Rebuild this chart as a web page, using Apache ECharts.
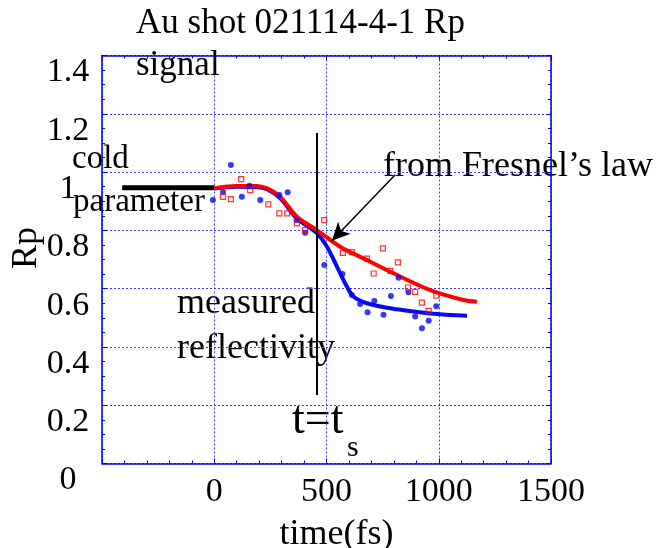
<!DOCTYPE html>
<html><head><meta charset="utf-8">
<script src="https://cdn.jsdelivr.net/npm/echarts@6/dist/echarts.min.js"></script>
<style>html,body{margin:0;padding:0;background:#fff}#c{width:662px;height:548px}</style>
</head><body><div id="c"></div>
<script>
// ---- data ----
const xTickLabels = ['', '0', '500', '1000', '1500'];          // for -500,0,500,1000,1500
const yTickLabels = ['0', '0.2', '0.4', '0.6', '0.8', '1', '1.2', '1.4'];
const coldLine = [[-410, 0.946], [0, 0.946]];
const redCurve = [[0,0.944],[101,0.952],[190,0.952],[235,0.944],[294,0.915],[368,0.847],[457,0.801],[561,0.744],[680,0.698],[814,0.647],[962,0.595],[1110,0.561],[1170,0.555]];
const blueCurve = [[0,0.944],[101,0.950],[190,0.948],[235,0.941],[294,0.910],[368,0.841],[457,0.790],[502,0.744],[547,0.675],[591,0.607],[621,0.572],[680,0.550],[814,0.529],[962,0.515],[1126,0.507]];
const blueDots = [[-6,0.904],[39,0.932],[74,1.024],[123,0.915],[157,0.953],[205,0.904],[290,0.921],[327,0.931],[367,0.835],[405,0.792],[490,0.681],[571,0.650],[613,0.578],[650,0.547],[683,0.519],[713,0.558],[754,0.510],[787,0.575],[821,0.637],[865,0.588],[895,0.504],[925,0.464],[955,0.490],[989,0.540]];
const redSquares = [[39,0.915],[74,0.907],[120,0.976],[160,0.938],[241,0.889],[290,0.858],[325,0.858],[368,0.824],[405,0.801],[490,0.835],[573,0.723],[613,0.725],[680,0.703],[710,0.652],[751,0.738],[784,0.661],[818,0.690],[863,0.604],[895,0.589],[925,0.552],[955,0.524],[989,0.576]];
const tsLine = [[457, 1.134], [457, 0.235]];
const arrowLine = [[806, 0.991], [524, 0.764]];

// ---- styles ----
const FONT = 'Liberation Serif';
const AX = '#0000ee';
const GRID = '#3c3cff';

const chart = echarts.init(document.getElementById('c'), null, {renderer: 'canvas'});

function axisBase(extra) {
  return Object.assign({
    type: 'value',
    axisLine: {show: true, onZero: false, lineStyle: {color: AX, width: 1.5}},
    axisTick: {show: true, inside: true, length: 5, lineStyle: {color: AX, width: 1}},
    minorTick: {show: true, length: 3, lineStyle: {color: AX, width: 1}},
    splitLine: {show: false},
    axisLabel: {show: false}
  }, extra);
}

const option = {
  animation: false,
  backgroundColor: '#fff',
  title: {
    text: 'Au shot 021114-4-1 Rp\nsignal',
    left: 136, top: 3, padding: 0,
    textStyle: {fontFamily: FONT, fontSize: 35, fontWeight: 'normal', color: '#000', lineHeight: 42}
  },
  grid: {left: 102, right: 111, top: 55.5, bottom: 84.5, containLabel: false, outerBoundsMode: 'none'},
  xAxis: [
    axisBase({
      min: -500, max: 1500, interval: 500, position: 'bottom',
      minorTick: {show: true, splitNumber: 5, length: 3, lineStyle: {color: AX, width: 1}},
      splitLine: {show: true, lineStyle: {color: GRID, type: [2, 2], width: 1}},
      axisLabel: {show: true, fontFamily: FONT, fontSize: 34, color: '#000', margin: 12,
        formatter: v => xTickLabels[Math.round((v + 500) / 500)]},
      name: 'time(fs)', nameLocation: 'middle', nameGap: 53, nameMoveOverlap: false,
      nameTextStyle: {fontFamily: FONT, fontSize: 36, color: '#000', padding: [0, 0, 0, 20]}
    }),
    axisBase({min: -500, max: 1500, interval: 500, position: 'top',
      minorTick: {show: true, splitNumber: 5, length: 3, lineStyle: {color: AX, width: 1}}})
  ],
  yAxis: [
    axisBase({
      min: 0, max: 1.4, interval: 0.2, position: 'left',
      minorTick: {show: true, splitNumber: 4, length: 3, lineStyle: {color: AX, width: 1}},
      splitLine: {show: true, lineStyle: {color: GRID, type: [2, 2], width: 1}},
      axisLabel: {show: true, fontFamily: FONT, fontSize: 34, color: '#000', align: 'center', margin: 34,
        verticalAlign: 'top',
        formatter: v => yTickLabels[Math.round(v / 0.2)]},
      name: 'Rp', nameLocation: 'middle', nameGap: 57, nameRotate: 90, nameMoveOverlap: false,
      nameTextStyle: {fontFamily: FONT, fontSize: 36, color: '#000', padding: [0, 0, 0, 23]}
    }),
    axisBase({min: 0, max: 1.4, interval: 0.2, position: 'right',
      minorTick: {show: true, splitNumber: 4, length: 3, lineStyle: {color: AX, width: 1}}})
  ],
  series: [
    {
      type: 'line', name: 'cold', data: coldLine, symbol: 'none', silent: true,
      lineStyle: {color: '#000', width: 5}, z: 3,
      markLine: {
        silent: true, symbol: ['none', 'none'], label: {show: false},
        animation: false,
        data: [
          [{coord: tsLine[0], lineStyle: {color: '#000', width: 2, type: 'solid'}},
           {coord: tsLine[1]}],
          [{coord: arrowLine[0], symbol: 'none', lineStyle: {color: '#000', width: 1.5, type: 'solid'}},
           {coord: arrowLine[1], symbol: 'arrow', symbolSize: [13, 18]}]
        ]
      }
    },
    {type: 'line', name: 'measured', data: blueCurve, symbol: 'none', smooth: 0.35, silent: true,
      lineStyle: {color: '#0808f0', width: 4}, z: 3},
    {type: 'line', name: 'Fresnel', data: redCurve, symbol: 'none', smooth: 0.35, silent: true,
      lineStyle: {color: '#ff0000', width: 4}, z: 4},
    {type: 'scatter', name: 'blue points', data: blueDots, symbol: 'circle', symbolSize: 6, silent: true,
      itemStyle: {color: '#0808f0'}, z: 5},
    {type: 'scatter', name: 'red points', data: redSquares, symbol: 'rect', symbolSize: 5, silent: true,
      itemStyle: {color: 'rgba(255,255,255,0)', borderColor: '#ff0000', borderWidth: 1.2}, z: 5}
  ],
  graphic: [
    {type: 'text', left: 72, top: 143, silent: true,
      style: {text: 'cold', font: '33px "Liberation Serif"', fill: '#000'}},
    {type: 'text', left: 73, top: 186, silent: true,
      style: {text: 'parameter', font: '33px "Liberation Serif"', fill: '#000'}},
    {type: 'text', left: 383, top: 149, silent: true,
      style: {text: 'from Fresnel\u2019s law', font: '36px "Liberation Serif"', fill: '#000'}},
    {type: 'text', left: 177, top: 286, silent: true,
      style: {text: 'measured', font: '36px "Liberation Serif"', fill: '#000'}},
    {type: 'text', left: 177, top: 331, silent: true,
      style: {text: 'reflectivity', font: '36px "Liberation Serif"', fill: '#000'}},
    {type: 'text', left: 292, top: 398, silent: true,
      style: {text: 't=t', font: '46px "Liberation Serif"', fill: '#000'}},
    {type: 'text', left: 347, top: 433, silent: true,
      style: {text: 's', font: '30px "Liberation Serif"', fill: '#000'}}
  ]
};
chart.setOption(option);
</script>
</body></html>
